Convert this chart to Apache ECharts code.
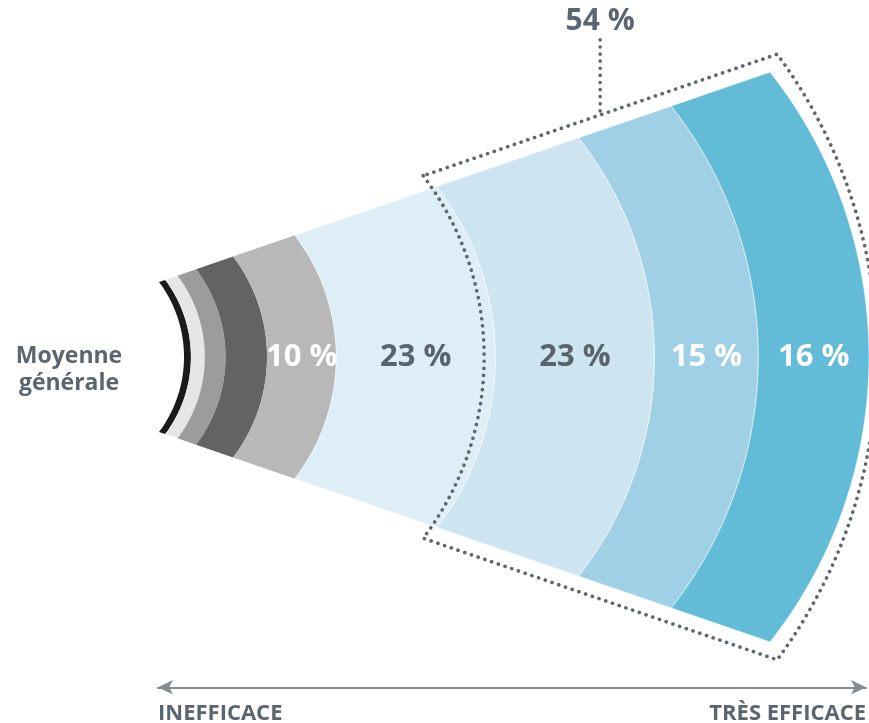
<!DOCTYPE html>
<html><head><meta charset="utf-8">
<script src="https://cdn.jsdelivr.net/npm/echarts@6/dist/echarts.min.js"></script>
<style>html,body{margin:0;padding:0;background:#fff}#c{width:869px;height:723px}</style>
</head><body><div id="c"></div>
<script>
// ---- data ----
const bandValues = [1, 2, 3, 6, 10, 23, 23, 15, 16];
const bandShowLabel = [false, false, false, false, true, true, true, true, true];
const bracketBands = [6, 8];               // first / last band grouped by the dotted frame
const scaleLabels = ['INEFFICACE', 'TRÈS EFFICACE'];
const sideLabel = ['Moyenne', 'générale'];

// ---- styles ----
const bandColors = ['#1b1b1b', '#e6e6e6', '#9c9c9c', '#636363', '#b8b8b8', '#ddeef7', '#cce5f1', '#9fd0e5', '#62bbd7'];
const labelColors = ['#fff', '#fff', '#fff', '#fff', '#ffffff', '#59636c', '#59636c', '#ffffff', '#ffffff'];
const TEXT = '#5b6570';
const FONT = '"Open Sans", "Noto Sans", sans-serif';
// fan outline in data units (x: cumulative %, y: half height)
const FAN = { edgeK: 0.892, edgeC: -3.61, h0: 75, hK: 2.12 };
const BR = { padStart: 2.2, padEnd: 1.15, padH: 15.5, midShiftL: 4, lineTop: 319, labelY: 336 };

const starts = [], ends = [];
let acc = 0;
bandValues.forEach(v => { starts.push(acc); acc += v; ends.push(acc); });
const total = acc;
let groupSum = 0;
for (let i = bracketBands[0]; i <= bracketBands[1]; i++) groupSum += bandValues[i];

function arc(api, v, hPad, midShift, n) {
  const m = api.coord([v, 0]);
  const e = api.coord([FAN.edgeC + FAN.edgeK * v, FAN.h0 + FAN.hK * v + hPad]);
  const xm = m[0] + midShift, yc = m[1], xe = e[0], H = yc - e[1];
  const c = (xm * xm - xe * xe - H * H) / (2 * (xm - xe));
  const R = xm - c;
  const phi = Math.atan2(H, xe - c);
  const pts = [];
  for (let i = 0; i <= n; i++) {
    const a = -phi + 2 * phi * i / n;
    pts.push([c + R * Math.cos(a), yc + R * Math.sin(a)]);
  }
  return pts;
}

const chart = echarts.init(document.getElementById('c'), null, { renderer: 'canvas' });
chart.setOption({
  animation: false,
  backgroundColor: '#ffffff',
  grid: [
    { left: 184, top: 57, width: 686, height: 600 },
    { left: 158, right: 1, top: 687, height: 1 }
  ],
  xAxis: [
    { gridIndex: 0, type: 'value', min: 0, max: total, show: false },
    {
      gridIndex: 1, type: 'category', data: scaleLabels, boundaryGap: false,
      axisLine: { symbol: ['arrow', 'arrow'], symbolSize: [11, 15], lineStyle: { color: '#858c91', width: 2 } },
      axisTick: { show: false },
      axisLabel: { color: TEXT, fontSize: 22, fontWeight: 'bold', fontFamily: FONT, margin: 15, alignMinLabel: 'left', alignMaxLabel: 'right' }
    }
  ],
  yAxis: [
    { gridIndex: 0, type: 'value', min: -300, max: 300, show: false },
    { gridIndex: 1, type: 'value', show: false }
  ],
  graphic: [{
    type: 'text', x: 69, y: 370,
    style: { text: sideLabel.join('\n'), align: 'center', verticalAlign: 'middle', fill: TEXT,
      fontSize: 23, fontWeight: 'bold', fontFamily: FONT, lineHeight: 27 }
  }],
  series: [
    {
      type: 'custom', xAxisIndex: 0, yAxisIndex: 0,
      data: bandValues.map((v, i) => [starts[i], ends[i], v, i]),
      encode: { x: [0, 1] },
      renderItem: function (params, api) {
        const s = api.value(0), e = api.value(1), val = api.value(2), i = api.value(3);
        const inner = arc(api, s, 0, 0, 60);
        const outer = arc(api, e, 0, 0, 60).reverse();
        const children = [{
          type: 'polygon', shape: { points: inner.concat(outer) },
          style: i >= 5 ? { fill: bandColors[i], stroke: 'rgba(255,255,255,0.55)', lineWidth: 1 } : { fill: bandColors[i] }
        }];
        if (bandShowLabel[i]) {
          const p = api.coord([(s + e) / 2, 0]);
          children.push({ type: 'text', x: p[0], y: p[1],
            style: { text: val + ' %', fill: labelColors[i], fontSize: 31, fontWeight: 'bold', fontFamily: FONT,
              align: 'center', verticalAlign: 'middle' } });
        }
        return { type: 'group', children: children };
      }
    },
    {
      type: 'custom', xAxisIndex: 0, yAxisIndex: 0,
      data: [[starts[bracketBands[0]], ends[bracketBands[1]], groupSum]],
      encode: { x: [0, 1] },
      renderItem: function (params, api) {
        const s = api.value(0), e = api.value(1), sum = api.value(2);
        const left = arc(api, s - BR.padStart, BR.padH, BR.midShiftL, 90);
        const right = arc(api, e + BR.padEnd, BR.padH, 0, 90).reverse();
        const tl = left[0], tr = right[right.length - 1];
        const mx = (tl[0] + tr[0]) / 2, my = (tl[1] + tr[1]) / 2;
        const top = api.coord([0, BR.lineTop])[1];
        const lab = api.coord([0, BR.labelY])[1];
        const dot = { fill: 'none', stroke: '#5f666d', lineWidth: 3.6, lineDash: [0.1, 7], lineCap: 'round' };
        return { type: 'group', children: [
          { type: 'polygon', shape: { points: left.concat(right) }, style: dot },
          { type: 'line', shape: { x1: mx, y1: my - 4, x2: mx, y2: top }, style: dot },
          { type: 'text', x: mx, y: lab, style: { text: sum + ' %', fill: TEXT, fontSize: 30, fontWeight: 'bold',
            fontFamily: FONT, align: 'center', verticalAlign: 'middle' } }
        ] };
      }
    }
  ]
});
</script>
</body></html>
